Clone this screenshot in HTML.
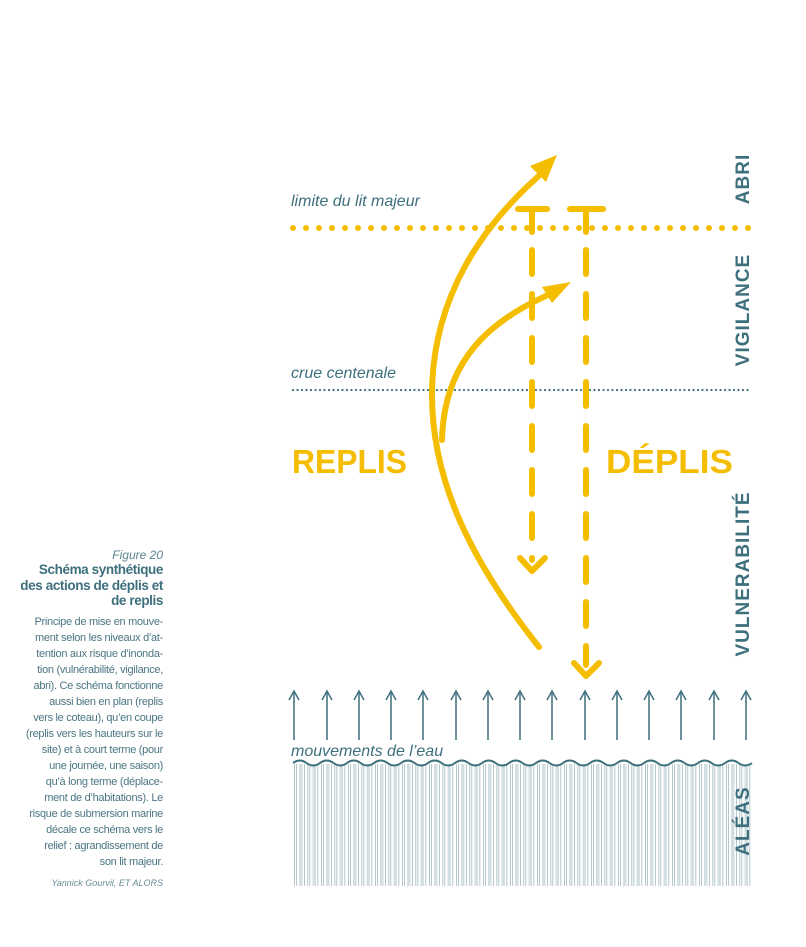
<!DOCTYPE html>
<html><head><meta charset="utf-8"><style>
body{margin:0;background:#fff;width:806px;height:947px;overflow:hidden;font-family:"Liberation Sans",sans-serif}
.cap{position:absolute;right:643px;text-align:right;color:#3d6f7d;white-space:nowrap}
</style></head><body>
<div class="cap" style="top:548px;font-size:12px;font-style:italic;color:#5b8390">Figure 20</div>
<div class="cap" style="top:562px;font-size:13.5px;font-weight:bold;line-height:15.5px;letter-spacing:-0.4px">Schéma synthétique<br>des actions de déplis et<br>de replis</div>
<div class="cap" style="top:614px;font-size:11px;line-height:16px;color:#4b7582;letter-spacing:-0.3px">Principe de mise en mouve-<br>ment selon les niveaux d’at-<br>tention aux risque d’inonda-<br>tion (vulnérabilité, vigilance,<br>abri). Ce schéma fonctionne<br>aussi bien en plan (replis<br>vers le coteau), qu’en coupe<br>(replis vers les hauteurs sur le<br>site) et à court terme (pour<br>une journée, une saison)<br>qu’à long terme (déplace-<br>ment de d’habitations). Le<br>risque de submersion marine<br>décale ce schéma vers le<br>relief : agrandissement de<br>son lit majeur.</div>
<div class="cap" style="top:878px;font-size:9px;font-style:italic;color:#6a8d98">Yannick Gourvil, ET ALORS</div>
<svg width="806" height="947" style="position:absolute;left:0;top:0" xmlns="http://www.w3.org/2000/svg">
<defs>
<pattern id="st" x="293" y="0" width="13.5" height="10" patternUnits="userSpaceOnUse">
<rect x="6" y="0" width="3.5" height="10" fill="#d3dfe2"/>
<rect x="1" y="0" width="0.7" height="10" fill="#93afb7"/>
<rect x="3" y="0" width="0.7" height="10" fill="#93afb7"/>
<rect x="11" y="0" width="0.7" height="10" fill="#93afb7"/>
</pattern>
</defs>
<rect x="293" y="764" width="460" height="122" fill="url(#st)"/>
<path d="M293,763 q6.75,-5 13.5,0 t13.5,0 t13.5,0 t13.5,0 t13.5,0 t13.5,0 t13.5,0 t13.5,0 t13.5,0 t13.5,0 t13.5,0 t13.5,0 t13.5,0 t13.5,0 t13.5,0 t13.5,0 t13.5,0 t13.5,0 t13.5,0 t13.5,0 t13.5,0 t13.5,0 t13.5,0 t13.5,0 t13.5,0 t13.5,0 t13.5,0 t13.5,0 t13.5,0 t13.5,0 t13.5,0 t13.5,0 t13.5,0 t13.5,0" stroke="#3d6f7d" stroke-width="2" fill="none"/>
<g font-family="Liberation Sans, sans-serif" fill="#3d6f7d">
<text x="291" y="206" font-size="16" font-style="italic">limite du lit majeur</text>
<text x="291" y="378" font-size="16" font-style="italic">crue centenale</text>
<text x="291" y="756" font-size="16" font-style="italic">mouvements de l’eau</text>
<g font-weight="bold" font-size="19" letter-spacing="1" text-anchor="middle">
<text transform="translate(749,179) rotate(-90)">ABRI</text>
<text transform="translate(749,310) rotate(-90)">VIGILANCE</text>
<text transform="translate(749,574) rotate(-90)">VULNERABILITÉ</text>
<text transform="translate(749,821) rotate(-90)">ALÉAS</text>
</g>
</g>
<g font-family="Liberation Sans, sans-serif" fill="#f5bd00" font-weight="bold" font-size="33">
<text x="292" y="473" textLength="115" lengthAdjust="spacingAndGlyphs">REPLIS</text>
<text x="606" y="473" textLength="127" lengthAdjust="spacingAndGlyphs">DÉPLIS</text>
</g>
<line x1="293" y1="228" x2="752" y2="228" stroke="#f5bd00" stroke-width="6" stroke-linecap="round" stroke-dasharray="0 13"/>
<line x1="293" y1="390" x2="752" y2="390" stroke="#3d6f7d" stroke-width="2.2" stroke-linecap="round" stroke-dasharray="0 4.5"/>
<g stroke="#f5bd00" stroke-width="6" fill="none" stroke-linecap="round" stroke-linejoin="round">
<path d="M518,209 H547 M532,209 V232"/>
<path d="M570,209 H603 M586,209 V232"/>
<path d="M532,250 V560" stroke-dasharray="24 20"/>
<path d="M586,250 V665" stroke-dasharray="24 20"/>
<path d="M520,558 L532,571 L545,558"/>
<path d="M574,663 L586,676 L599,663"/>
<path d="M539,647 C470,560 432,480 432,395 C432,300 480,225 548,168"/>
<path d="M442,440 C444,360 490,318 560,290"/>
</g>
<polygon points="557,155 530,166 546,182" fill="#f5bd00"/>
<polygon points="571,282 542,287 552,303" fill="#f5bd00"/>
<g stroke="#3d6f7d" stroke-width="1.5" fill="none">
<path d="M294,740V692M327,740V692M359,740V692M391,740V692M423,740V692M456,740V692M488,740V692M520,740V692M552,740V692M585,740V692M617,740V692M649,740V692M681,740V692M714,740V692M746,740V692"/>
<path d="M289,700l5,-9l5,9M322,700l5,-9l5,9M354,700l5,-9l5,9M386,700l5,-9l5,9M418,700l5,-9l5,9M451,700l5,-9l5,9M483,700l5,-9l5,9M515,700l5,-9l5,9M547,700l5,-9l5,9M580,700l5,-9l5,9M612,700l5,-9l5,9M644,700l5,-9l5,9M676,700l5,-9l5,9M709,700l5,-9l5,9M741,700l5,-9l5,9"/>
</g>
</svg>
</body></html>
